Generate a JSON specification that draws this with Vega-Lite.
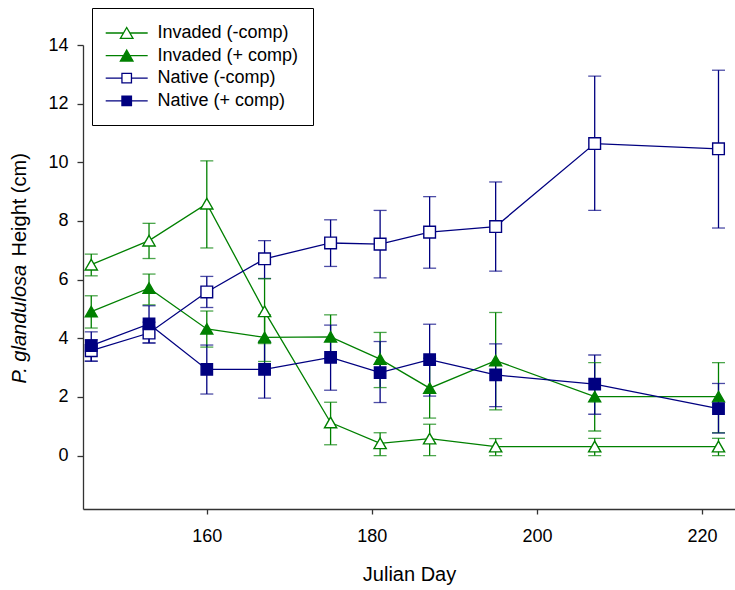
{
  "$schema": "https://vega.github.io/schema/vega-lite/v6.json",
  "width": 652,
  "height": 464,
  "autosize": {"type": "none"},
  "padding": {"left": 83, "top": 45, "right": 0, "bottom": 81},
  "background": "white",
  "config": {
    "view": {"stroke": null},
    "font": "Liberation Sans",
    "axis": {"grid": false, "domainColor": "#333333", "tickColor": "#333333", "labelColor": "black", "titleColor": "black", "labelFont": "Liberation Sans", "titleFont": "Liberation Sans", "titleFontWeight": "normal", "domainWidth": 1.3, "tickWidth": 1.3},
    "legend": {"title": null, "orient": "none", "legendX": 9, "legendY": -37, "strokeColor": "black", "fillColor": "white", "padding": 15, "rowPadding": 3.6, "labelFontSize": 18, "labelFont": "Liberation Sans", "labelColor": "black", "labelOffset": 20.7, "symbolOffset": 9.7, "symbolSize": 324, "symbolStrokeWidth": 1.3}
  },
  "data": {
    "values": [
      {"series": "Invaded (-comp)", "day": 146, "mean": 6.51, "lo": 6.13, "hi": 6.87},
      {"series": "Invaded (-comp)", "day": 153, "mean": 7.33, "lo": 6.72, "hi": 7.92},
      {"series": "Invaded (-comp)", "day": 160, "mean": 8.59, "lo": 7.08, "hi": 10.05},
      {"series": "Invaded (-comp)", "day": 167, "mean": 4.92, "lo": 3.82, "hi": 6.03},
      {"series": "Invaded (-comp)", "day": 175, "mean": 1.13, "lo": 0.37, "hi": 1.82},
      {"series": "Invaded (-comp)", "day": 181, "mean": 0.42, "lo": 0.0, "hi": 0.78},
      {"series": "Invaded (-comp)", "day": 187, "mean": 0.58, "lo": 0.0, "hi": 1.07},
      {"series": "Invaded (-comp)", "day": 195, "mean": 0.31, "lo": 0.0, "hi": 0.58},
      {"series": "Invaded (-comp)", "day": 207, "mean": 0.31, "lo": 0.0, "hi": 0.59},
      {"series": "Invaded (-comp)", "day": 222, "mean": 0.31, "lo": 0.0, "hi": 0.59},
      {"series": "Invaded (+ comp)", "day": 146, "mean": 4.91, "lo": 4.35, "hi": 5.45},
      {"series": "Invaded (+ comp)", "day": 153, "mean": 5.71, "lo": 5.14, "hi": 6.19},
      {"series": "Invaded (+ comp)", "day": 160, "mean": 4.32, "lo": 3.7, "hi": 4.93},
      {"series": "Invaded (+ comp)", "day": 167, "mean": 4.03, "lo": 3.21, "hi": 4.8},
      {"series": "Invaded (+ comp)", "day": 175, "mean": 4.05, "lo": 3.3, "hi": 4.8},
      {"series": "Invaded (+ comp)", "day": 181, "mean": 3.29, "lo": 2.32, "hi": 4.2},
      {"series": "Invaded (+ comp)", "day": 187, "mean": 2.3, "lo": 1.28, "hi": 3.32},
      {"series": "Invaded (+ comp)", "day": 195, "mean": 3.24, "lo": 1.56, "hi": 4.88},
      {"series": "Invaded (+ comp)", "day": 207, "mean": 2.01, "lo": 0.84, "hi": 3.17},
      {"series": "Invaded (+ comp)", "day": 222, "mean": 2.01, "lo": 0.78, "hi": 3.17},
      {"series": "Native (-comp)", "day": 146, "mean": 3.58, "lo": 3.22, "hi": 3.95},
      {"series": "Native (-comp)", "day": 153, "mean": 4.18, "lo": 3.84, "hi": 4.55},
      {"series": "Native (-comp)", "day": 160, "mean": 5.58, "lo": 5.05, "hi": 6.11},
      {"series": "Native (-comp)", "day": 167, "mean": 6.71, "lo": 6.04, "hi": 7.33},
      {"series": "Native (-comp)", "day": 175, "mean": 7.25, "lo": 6.45, "hi": 8.04},
      {"series": "Native (-comp)", "day": 181, "mean": 7.21, "lo": 6.06, "hi": 8.36},
      {"series": "Native (-comp)", "day": 187, "mean": 7.62, "lo": 6.39, "hi": 8.83},
      {"series": "Native (-comp)", "day": 195, "mean": 7.81, "lo": 6.29, "hi": 9.33},
      {"series": "Native (-comp)", "day": 207, "mean": 10.64, "lo": 8.36, "hi": 12.94},
      {"series": "Native (-comp)", "day": 222, "mean": 10.46, "lo": 7.76, "hi": 13.14},
      {"series": "Native (+ comp)", "day": 146, "mean": 3.75, "lo": 3.22, "hi": 4.22},
      {"series": "Native (+ comp)", "day": 153, "mean": 4.49, "lo": 3.84, "hi": 5.11},
      {"series": "Native (+ comp)", "day": 160, "mean": 2.94, "lo": 2.1, "hi": 3.77},
      {"series": "Native (+ comp)", "day": 167, "mean": 2.94, "lo": 1.96, "hi": 3.9},
      {"series": "Native (+ comp)", "day": 175, "mean": 3.35, "lo": 2.23, "hi": 4.45},
      {"series": "Native (+ comp)", "day": 181, "mean": 2.83, "lo": 1.81, "hi": 3.89},
      {"series": "Native (+ comp)", "day": 187, "mean": 3.27, "lo": 2.03, "hi": 4.48},
      {"series": "Native (+ comp)", "day": 195, "mean": 2.75, "lo": 1.67, "hi": 3.81},
      {"series": "Native (+ comp)", "day": 207, "mean": 2.44, "lo": 1.41, "hi": 3.43},
      {"series": "Native (+ comp)", "day": 222, "mean": 1.6, "lo": 0.77, "hi": 2.46}
    ]
  },
  "encoding": {
    "x": {
      "field": "day", "type": "quantitative",
      "scale": {"domain": [145, 224], "nice": false, "zero": false},
      "axis": {"values": [160, 180, 200, 220], "tickSize": 5, "labelFontSize": 18, "labelPadding": 13, "title": "Julian Day", "titleFontSize": 20, "titleBaseline": "alphabetic", "titleY": 71}
    },
    "y": {
      "field": "mean", "type": "quantitative",
      "scale": {"domain": [-1.82, 14], "nice": false, "zero": false},
      "axis": null
    }
  },
  "layer": [
    {
      "mark": {"type": "rule", "strokeWidth": 1.3},
      "encoding": {
        "y": {
          "field": "lo", "type": "quantitative",
          "scale": {"domain": [-1.82, 14], "nice": false, "zero": false},
          "axis": {"orient": "left", "values": [0, 2, 4, 6, 8, 10, 12, 14], "tickSize": 6, "labelFontSize": 18, "labelPadding": 9, "title": "Height (cm)", "titleFontSize": 20, "titleAngle": -90, "titleAlign": "left", "titleBaseline": "alphabetic", "titleX": -57.5, "titleY": 211}
        },
        "y2": {"field": "hi"},
        "stroke": {"field": "series", "type": "nominal", "scale": {"domain": ["Invaded (-comp)", "Invaded (+ comp)", "Native (-comp)", "Native (+ comp)"], "range": ["#008000", "#008000", "#000080", "#000080"]}, "legend": null}
      }
    },
    {
      "mark": {"type": "tick", "orient": "horizontal", "size": 13, "thickness": 1.3},
      "encoding": {
        "y": {"field": "lo", "type": "quantitative", "scale": {"domain": [-1.82, 14], "nice": false, "zero": false}, "axis": null},
        "color": {"field": "series", "type": "nominal", "scale": {"domain": ["Invaded (-comp)", "Invaded (+ comp)", "Native (-comp)", "Native (+ comp)"], "range": ["#008000", "#008000", "#000080", "#000080"]}, "legend": null}
      }
    },
    {
      "mark": {"type": "tick", "orient": "horizontal", "size": 13, "thickness": 1.3},
      "encoding": {
        "y": {"field": "hi", "type": "quantitative", "scale": {"domain": [-1.82, 14], "nice": false, "zero": false}, "axis": null},
        "color": {"field": "series", "type": "nominal", "scale": {"domain": ["Invaded (-comp)", "Invaded (+ comp)", "Native (-comp)", "Native (+ comp)"], "range": ["#008000", "#008000", "#000080", "#000080"]}, "legend": null}
      }
    },
    {
      "mark": {"type": "line", "strokeWidth": 1.3},
      "encoding": {
        "stroke": {"field": "series", "type": "nominal", "scale": {"domain": ["Invaded (-comp)", "Invaded (+ comp)", "Native (-comp)", "Native (+ comp)"], "range": ["#008000", "#008000", "#000080", "#000080"]}, "legend": null}
      }
    },
    {
      "mark": {"type": "point", "opacity": 1, "strokeWidth": 1.4},
      "encoding": {
        "y": {
          "field": "mean", "type": "quantitative",
          "scale": {"domain": [-1.82, 14], "nice": false, "zero": false},
          "axis": {"orient": "left", "domain": false, "ticks": false, "labels": false, "grid": false, "title": "P. glandulosa", "titleFontStyle": "italic", "titleFontSize": 20, "titleAngle": -90, "titleAlign": "left", "titleBaseline": "alphabetic", "titleX": -57.5, "titleY": 338}
        },
        "shape": {"field": "series", "type": "nominal", "scale": {"domain": ["Invaded (-comp)", "Invaded (+ comp)", "Native (-comp)", "Native (+ comp)"], "range": ["triangle-up", "triangle-up", "square", "square"]}, "legend": null},
        "size": {"field": "series", "type": "nominal", "scale": {"domain": ["Invaded (-comp)", "Invaded (+ comp)", "Native (-comp)", "Native (+ comp)"], "range": [150, 130, 85, 90]}, "legend": null},
        "stroke": {"field": "series", "type": "nominal", "scale": {"domain": ["Invaded (-comp)", "Invaded (+ comp)", "Native (-comp)", "Native (+ comp)"], "range": ["#008000", "#008000", "#000080", "#000080"]}, "legend": null},
        "fill": {"field": "series", "type": "nominal", "scale": {"domain": ["Invaded (-comp)", "Invaded (+ comp)", "Native (-comp)", "Native (+ comp)"], "range": ["white", "#008000", "white", "#000080"]}, "legend": null}
      }
    },
    {
      "transform": [{"filter": "false"}],
      "mark": {"type": "point", "opacity": 1, "strokeWidth": 1.3, "size": 324},
      "encoding": {
        "shape": {"field": "series", "type": "nominal", "scale": {"domain": ["Invaded (-comp)", "Invaded (+ comp)", "Native (-comp)", "Native (+ comp)"], "range": ["M-2.333,0H-0.35M0.35,0H2.333M0,-0.606L0.7,0.606L-0.7,0.606Z", "M-2.333,0H-0.35M0.35,0H2.333M0,-0.606L0.7,0.606L-0.7,0.606Z", "M-2.333,0H-0.528M0.528,0H2.333M-0.528,-0.528H0.528V0.528H-0.528Z", "M-2.333,0H-0.528M0.528,0H2.333M-0.528,-0.528H0.528V0.528H-0.528Z"]}, "legend": {}},
        "stroke": {"field": "series", "type": "nominal", "scale": {"domain": ["Invaded (-comp)", "Invaded (+ comp)", "Native (-comp)", "Native (+ comp)"], "range": ["#008000", "#008000", "#000080", "#000080"]}, "legend": {}},
        "fill": {"field": "series", "type": "nominal", "scale": {"domain": ["Invaded (-comp)", "Invaded (+ comp)", "Native (-comp)", "Native (+ comp)"], "range": ["white", "#008000", "white", "#000080"]}, "legend": {}}
      }
    }
  ],
  "resolve": {
    "scale": {"shape": "independent", "stroke": "independent", "fill": "independent", "size": "independent", "color": "independent"},
    "axis": {"y": "independent"},
    "legend": {"shape": "independent", "stroke": "independent", "fill": "independent"}
  }
}
